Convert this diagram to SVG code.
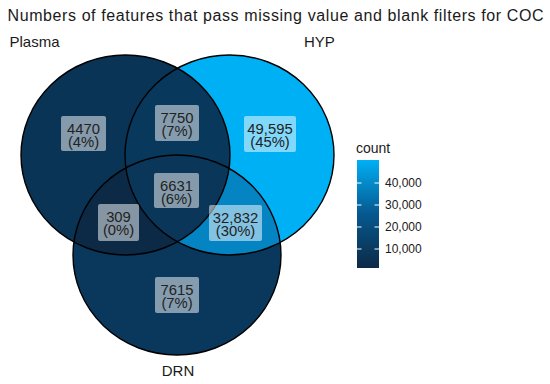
<svg xmlns="http://www.w3.org/2000/svg" width="550" height="384" viewBox="0 0 550 384">
<style>
text{font-family:"Liberation Sans",Arial,sans-serif;fill:#1a1a1a}
.title{font-size:16px}
.set{font-size:15px}
.leg{font-size:14px}
.lab{font-size:14.8px;text-anchor:middle;fill:#222}
.box{fill:#ffffff;fill-opacity:0.5;}
.edge{fill:none;stroke:#000;stroke-width:1.4}
.tick{font-size:12px}
.tm{stroke:#fff;stroke-width:1}
</style>
<defs>
<ellipse id="ePlasma" cx="125.5" cy="155" rx="104.5" ry="100"/>
<ellipse id="eHYP" cx="229.5" cy="155" rx="104.5" ry="100"/>
<ellipse id="eDRN" cx="177" cy="255" rx="104" ry="100"/>
<clipPath id="cPlasma"><use href="#ePlasma"/></clipPath>
<clipPath id="cHYP"><use href="#eHYP"/></clipPath>
<linearGradient id="grad" x1="0" y1="1" x2="0" y2="0">
<stop offset="0" stop-color="#0c2a46"/>
<stop offset="0.5" stop-color="#06588f"/>
<stop offset="1" stop-color="#00b0f5"/>
</linearGradient>
</defs>
<rect width="550" height="384" fill="#fff"/>
<text class="title" x="7.5" y="21" textLength="536" lengthAdjust="spacing">Numbers of features that pass missing value and blank filters for COC</text>

<g id="regions">
<use href="#ePlasma" fill="#0a3455"/>
<use href="#eHYP" fill="#00b0f5"/>
<use href="#eDRN" fill="#09385c"/>
<use href="#eHYP" fill="#08395d" clip-path="url(#cPlasma)"/>
<use href="#eDRN" fill="#0c2a46" clip-path="url(#cPlasma)"/>
<use href="#eDRN" fill="#0584c4" clip-path="url(#cHYP)"/>
<g clip-path="url(#cPlasma)"><use href="#eDRN" fill="#0a3659" clip-path="url(#cHYP)"/></g>
</g>

<g id="node-plasma">
<use href="#ePlasma" class="edge"/>
<text class="set" x="9.5" y="47">Plasma</text>
</g>
<g id="node-hyp">
<use href="#eHYP" class="edge"/>
<text class="set" x="304" y="47">HYP</text>
</g>
<g id="node-drn">
<use href="#eDRN" class="edge"/>
<text class="set" x="178" y="376" text-anchor="middle">DRN</text>
</g>

<g id="labels">
<g id="lab-plasma"><rect class="box" x="61" y="116" width="45" height="35" rx="2"/><text class="lab" x="83.5" y="134">4470</text><text class="lab" x="83.5" y="147">(4%)</text></g>
<g id="lab-plasma-hyp"><rect class="box" x="155" y="105" width="44" height="36" rx="2"/><text class="lab" x="177" y="123">7750</text><text class="lab" x="177" y="136">(7%)</text></g>
<g id="lab-hyp"><rect class="box" x="244" y="116" width="52" height="36" rx="2"/><text class="lab" x="270" y="134">49,595</text><text class="lab" x="270" y="147">(45%)</text></g>
<g id="lab-all"><rect class="box" x="154" y="173" width="45" height="35" rx="2"/><text class="lab" x="176.5" y="191">6631</text><text class="lab" x="176.5" y="204">(6%)</text></g>
<g id="lab-plasma-drn"><rect class="box" x="98" y="204" width="41" height="37" rx="2"/><text class="lab" x="118.5" y="222">309</text><text class="lab" x="118.5" y="235">(0%)</text></g>
<g id="lab-hyp-drn"><rect class="box" x="209" y="205" width="53" height="36" rx="2"/><text class="lab" x="235.5" y="223">32,832</text><text class="lab" x="235.5" y="236">(30%)</text></g>
<g id="lab-drn"><rect class="box" x="155" y="277" width="44" height="36" rx="2"/><text class="lab" x="177" y="295">7615</text><text class="lab" x="177" y="308">(7%)</text></g>
</g>

<g id="legend">
<text class="leg" x="356" y="153">count</text>
<rect x="357" y="160" width="22" height="108" fill="url(#grad)"/>
<g class="tm">
<line x1="357" y1="183" x2="361.5" y2="183"/><line x1="374.5" y1="183" x2="379" y2="183"/>
<line x1="357" y1="205" x2="361.5" y2="205"/><line x1="374.5" y1="205" x2="379" y2="205"/>
<line x1="357" y1="227" x2="361.5" y2="227"/><line x1="374.5" y1="227" x2="379" y2="227"/>
<line x1="357" y1="249" x2="361.5" y2="249"/><line x1="374.5" y1="249" x2="379" y2="249"/>
</g>
<text class="tick" x="385" y="187.3">40,000</text>
<text class="tick" x="385" y="209.3">30,000</text>
<text class="tick" x="385" y="231.3">20,000</text>
<text class="tick" x="385" y="253.3">10,000</text>
</g>
</svg>
